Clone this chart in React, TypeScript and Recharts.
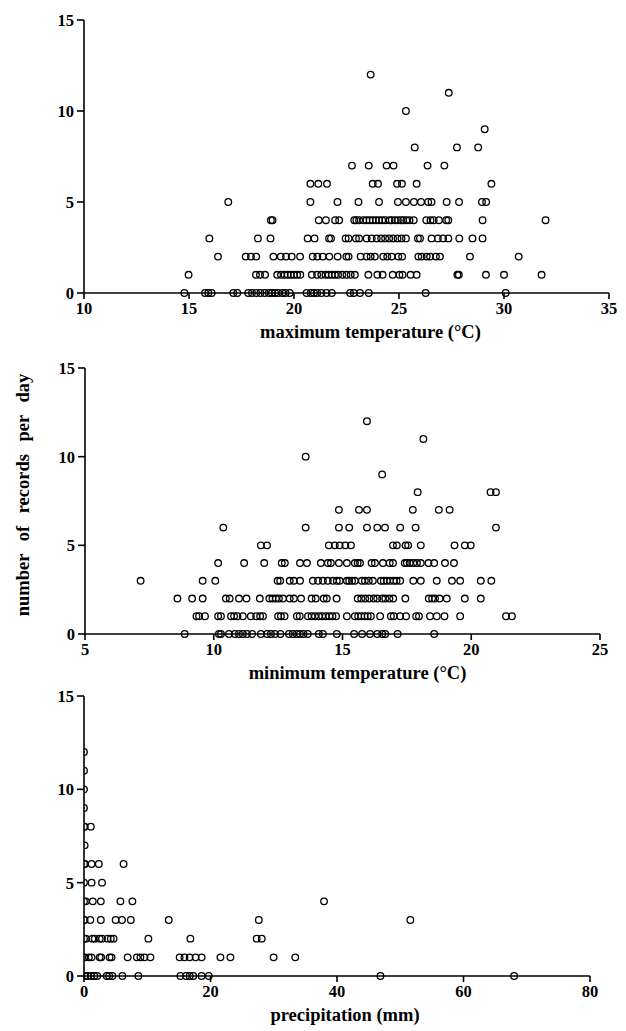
import React from 'react';
import { ScatterChart, Scatter, XAxis, YAxis } from 'recharts';

// each row index = number of records per day, values = x position of each day
const maxTempRows: number[][] = [
  [14.78, 15.76, 15.92, 16.08, 17.11, 17.3, 17.82, 18.0, 18.2, 18.4, 18.6, 18.8, 18.95, 19.1, 19.25, 19.45, 19.6, 19.8, 20.6, 20.8, 20.95, 21.1, 21.3, 21.55, 21.8, 22.67, 22.85, 23.14, 23.56, 26.27, 30.08],
  [14.98, 18.19, 18.38, 18.62, 19.2, 19.38, 19.55, 19.7, 19.85, 20.0, 20.15, 20.3, 20.85, 21.1, 21.3, 21.5, 21.65, 21.8, 21.95, 22.1, 22.3, 22.5, 22.7, 22.9, 23.54, 23.97, 24.22, 24.7, 25.02, 25.17, 25.55, 25.84, 27.78, 27.85, 29.14, 30.0, 31.79],
  [16.38, 17.7, 17.95, 18.2, 19.02, 19.37, 19.62, 19.89, 20.29, 20.89, 21.11, 21.37, 21.68, 22.08, 22.49, 22.6, 23.17, 23.46, 23.65, 23.85, 24.25, 24.44, 24.65, 24.97, 25.15, 25.92, 26.08, 26.32, 26.48, 26.76, 26.95, 28.38, 30.7],
  [15.97, 18.28, 18.88, 20.65, 20.98, 21.67, 21.76, 22.46, 22.6, 22.95, 23.1, 23.46, 23.7, 23.94, 24.15, 24.34, 24.53, 24.72, 24.93, 25.12, 25.33, 25.9, 26.0, 26.55, 26.85, 27.1, 27.35, 27.87, 28.5, 28.98],
  [18.9, 18.98, 21.18, 21.52, 21.96, 22.15, 22.87, 22.97, 23.1, 23.3, 23.45, 23.6, 23.75, 23.9, 24.05, 24.2, 24.35, 24.55, 24.65, 24.8, 24.95, 25.1, 25.2, 25.35, 25.5, 25.7, 26.3, 26.5, 26.65, 26.9, 27.25, 27.35, 28.98, 31.98],
  [16.87, 20.78, 22.07, 23.07, 24.05, 24.95, 25.33, 25.71, 26.05, 26.39, 26.55, 27.27, 27.86, 28.95, 29.15],
  [20.78, 21.16, 21.57, 23.75, 24.0, 24.91, 25.14, 25.84, 29.4],
  [22.76, 23.56, 24.41, 24.74, 26.36, 27.16],
  [25.75, 27.76, 28.77],
  [29.08],
  [25.33],
  [27.37],
  [23.65],
];

const minTempRows: number[][] = [
  [8.87, 10.2, 10.28, 10.59, 10.82, 10.98, 11.13, 11.29, 11.49, 11.83, 12.07, 12.22, 12.38, 12.59, 12.92, 13.07, 13.23, 13.35, 13.49, 13.65, 14.08, 14.24, 14.78, 15.45, 15.76, 16.07, 16.35, 16.54, 16.66, 17.14, 18.56],
  [9.33, 9.43, 9.66, 10.17, 10.28, 10.67, 10.79, 10.92, 11.13, 11.44, 11.65, 11.8, 11.91, 12.5, 12.61, 12.75, 13.23, 13.34, 13.66, 13.8, 13.93, 14.08, 14.21, 14.35, 14.49, 14.61, 14.75, 15.17, 15.48, 15.61, 15.73, 15.86, 15.98, 16.1, 16.46, 16.88, 16.99, 17.24, 17.47, 17.86, 17.97, 18.4, 18.66, 18.96, 19.57, 21.35, 21.58],
  [8.59, 9.16, 9.57, 10.47, 10.62, 10.98, 11.27, 11.79, 12.16, 12.28, 12.41, 12.53, 12.69, 12.95, 13.11, 13.39, 13.8, 13.96, 14.27, 14.39, 14.77, 15.59, 15.73, 15.88, 16.04, 16.21, 16.35, 16.54, 16.66, 16.82, 16.97, 17.44, 18.35, 18.48, 18.59, 18.77, 19.05, 19.75, 20.37],
  [7.16, 9.57, 10.06, 12.48, 12.58, 12.95, 13.11, 13.35, 13.85, 14.05, 14.24, 14.43, 14.63, 14.78, 14.89, 15.17, 15.26, 15.37, 15.48, 15.75, 15.87, 16.02, 16.18, 16.49, 16.6, 16.72, 16.85, 16.99, 17.1, 17.24, 17.75, 18.04, 18.66, 19.25, 19.57, 20.37, 20.78],
  [10.17, 11.18, 11.96, 12.64, 12.76, 13.35, 13.62, 14.16, 14.43, 14.55, 14.86, 15.17, 15.48, 15.59, 15.68, 16.13, 16.26, 16.57, 16.83, 16.96, 17.42, 17.5, 17.61, 17.75, 17.89, 18.04, 18.34, 18.56, 18.98, 19.33],
  [11.83, 12.07, 14.47, 14.7, 14.89, 15.11, 15.33, 16.96, 17.11, 17.45, 17.55, 18.04, 19.35, 19.75, 19.98],
  [10.37, 13.57, 14.86, 15.26, 15.95, 16.35, 16.65, 17.24, 17.84, 20.96],
  [14.86, 15.64, 15.95, 17.73, 18.74, 19.16],
  [17.92, 20.75, 20.96],
  [16.54],
  [13.57],
  [18.14],
  [15.95],
];

const precipRows: number[][] = [
  [0.1, 0.57, 1.14, 1.64, 2.09, 3.6, 3.98, 4.49, 6.07, 8.6, 15.24, 16.13, 16.7, 17.27, 18.6, 19.73, 46.87, 68.0],
  [0, 0.1, 0.76, 1.2, 2.47, 2.72, 4.05, 4.36, 6.9, 8.35, 8.92, 9.55, 10.5, 15.12, 15.88, 16.7, 17.65, 18.6, 21.57, 23.15, 29.98, 33.4],
  [0, 0.3, 1.33, 1.7, 2.47, 2.85, 3.73, 4.24, 4.68, 10.18, 16.82, 27.3, 28.1],
  [0, 0.1, 1.0, 2.66, 5.0, 6.0, 7.4, 13.4, 27.64, 51.6],
  [0, 0.3, 1.39, 2.66, 5.76, 7.65, 37.95],
  [0, 1.2, 2.85],
  [0, 0.15, 1.2, 2.34, 6.26],
  [0.1],
  [0, 0.1, 1.08],
  [0],
  [0],
  [0],
  [0],
];

const countTicks = [0, 5, 10, 15];
const maxTempTicks = [10, 15, 20, 25, 30, 35];
const minTempTicks = [5, 10, 15, 20, 25];
const precipTicks = [0, 20, 40, 60, 80];

const toPoints = (rows: number[][]) =>
  rows.flatMap((xs, count) => xs.map((x) => ({ x, y: count })));

const font = '"Liberation Serif", "Times New Roman", serif';
const tickStyle = { fontFamily: font, fontWeight: 700, fontSize: 16.5, fill: '#000' };
const axisLine = { stroke: '#000', strokeWidth: 1.6 };

const OpenDot = (props: any) => (
  <circle cx={props.cx} cy={props.cy} r={3.3} fill="none" stroke="#000" strokeWidth={1.3} />
);

const YTitle = () => (
  <text
    x={29}
    y={155}
    transform="rotate(-90, 29, 155)"
    textAnchor="middle"
    fontFamily={font}
    fontWeight={700}
    fontSize={18.5}
    wordSpacing={8}
    fill="#000"
  >
    number of records per day
  </text>
);

type PanelProps = {
  top: number;
  height: number;
  margin: { top: number; right: number; bottom: number; left: number };
  rows: number[][];
  domain: [number, number];
  ticks: number[];
  title: string;
  titleDx: number;
  yTitle?: boolean;
};

const Panel = ({ top, height, margin, rows, domain, ticks, title, titleDx, yTitle }: PanelProps) => (
  <div style={{ position: 'absolute', left: 0, top }}>
    <ScatterChart width={626} height={height} margin={margin}>
      <XAxis
        type="number"
        dataKey="x"
        domain={domain}
        ticks={ticks}
        interval={0}
        allowDataOverflow
        axisLine={axisLine}
        tickLine={axisLine}
        tickSize={6}
        tickMargin={3}
        tick={tickStyle}
        height={30}
        label={{
          value: title,
          position: 'bottom',
          offset: 2,
          dx: titleDx,
          style: { fontFamily: font, fontWeight: 700, fontSize: 18.5, fill: '#000' },
        }}
      />
      <YAxis
        type="number"
        dataKey="y"
        domain={[0, 15]}
        ticks={countTicks}
        interval={0}
        axisLine={axisLine}
        tickLine={axisLine}
        tickSize={7}
        tickMargin={3}
        tick={tickStyle}
        width={40}
        label={yTitle ? { content: () => <YTitle /> } : undefined}
      />
      <Scatter data={toPoints(rows)} shape={OpenDot} isAnimationActive={false} />
    </ScatterChart>
  </div>
);

export default function App() {
  return (
    <div style={{ position: 'absolute', left: 0, top: 0, width: 626, height: 1031, background: '#fff' }}>
      <Panel
        top={0}
        height={350}
        margin={{ top: 20, right: 17, bottom: 27, left: 44 }}
        rows={maxTempRows}
        domain={[10, 35]}
        ticks={maxTempTicks}
        title="maximum temperature (°C)"
        titleDx={24}
      />
      <Panel
        top={340}
        height={350}
        margin={{ top: 28, right: 26, bottom: 26, left: 45 }}
        rows={minTempRows}
        domain={[5, 25]}
        ticks={minTempTicks}
        title="minimum temperature (°C)"
        titleDx={15}
        yTitle
      />
      <Panel
        top={680}
        height={351}
        margin={{ top: 16, right: 36, bottom: 25, left: 44 }}
        rows={precipRows}
        domain={[0, 80]}
        ticks={precipTicks}
        title="precipitation (mm)"
        titleDx={8}
      />
    </div>
  );
}
